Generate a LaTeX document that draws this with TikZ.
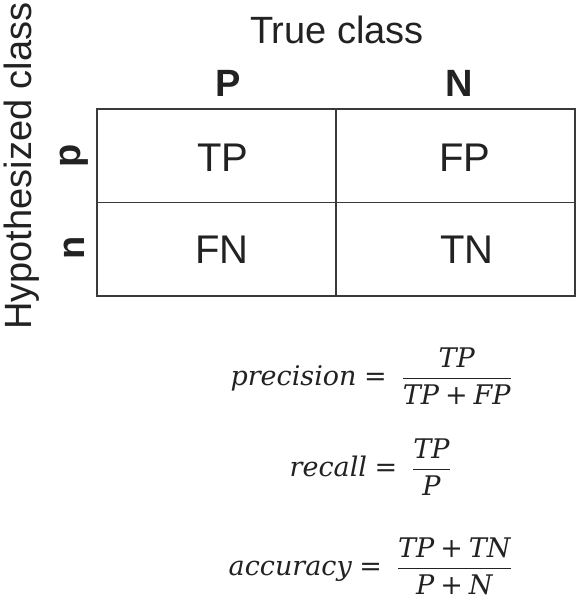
\documentclass[tikz,border=0pt]{standalone}
\usepackage{fix-cm}
\usepackage{amsmath}
\usepackage{fontspec}
\setmainfont{Liberation Sans}
\newfontfamily\fserif{DejaVu Serif}
\newcommand{\fv}[1]{\text{\fserif\itshape #1}}
\newcommand{\fbin}[1]{\mathbin{\text{\fserif #1}}}
\newcommand{\feq}{\mathrel{\text{\fserif =}}}
\definecolor{ink}{HTML}{222222}
\definecolor{rule}{HTML}{3A3A3A}
\begin{document}
\begin{tikzpicture}[x=1pt,y=-1pt,
  cell/.style={draw=rule,line width=1.3pt,minimum width=239pt,minimum height=93.5pt,inner sep=0pt,outer sep=0pt},
  celltext/.style={text=ink,font=\fontsize{40}{44}\selectfont,inner sep=0pt},
  head/.style={text=ink,font=\fontsize{38}{42}\selectfont,inner sep=0pt},
  headbold/.style={text=ink,font=\fontsize{38}{42}\selectfont\bfseries,inner sep=0pt},
  formula/.style={text=ink,font=\fontsize{27}{32}\selectfont,inner sep=0pt,anchor=east}]
\useasboundingbox (0,0) rectangle (578,600);
\fill[white] (0,0) rectangle (578,600);
% cells
\node[cell] (c11) at (216.5,155.75) {};
\node[cell] (c12) at (455.5,155.75) {};
\node[cell] (c21) at (216.5,249.25) {};
\node[cell] (c22) at (455.5,249.25) {};
% cell texts
\node[celltext] (tp) at (223,158) {TP};
\node[celltext] (fp) at (465,158) {FP};
\node[celltext] (fn) at (222,250) {FN};
\node[celltext] (tn) at (467,250) {TN};
% headers
\node[head] (true) at (337,30) {True class};
\node[headbold] (hP) at (228,83) {P};
\node[headbold] (hN) at (459,83) {N};
\node[head,rotate=90,anchor=west] (hyp) at (22,330) {Hypothesized class};
\node[headbold,rotate=90] (hp) at (74,156) {p};
\node[headbold,rotate=90] (hn) at (74,248) {n};
% formulas
\node[formula] (prec) at (512,376) {$\fv{precision}\feq\;\dfrac{\fv{TP}}{\fv{TP}\fbin{+}\fv{FP}}$};
\node[formula] (rec) at (451,467) {$\fv{recall}\feq\;\dfrac{\fv{TP}}{\fv{P}}$};
\node[formula] (acc) at (512,566) {$\fv{accuracy}\feq\;\dfrac{\fv{TP}\fbin{+}\fv{TN}}{\fv{P}\fbin{+}\fv{N}}$};
\end{tikzpicture}
\end{document}
